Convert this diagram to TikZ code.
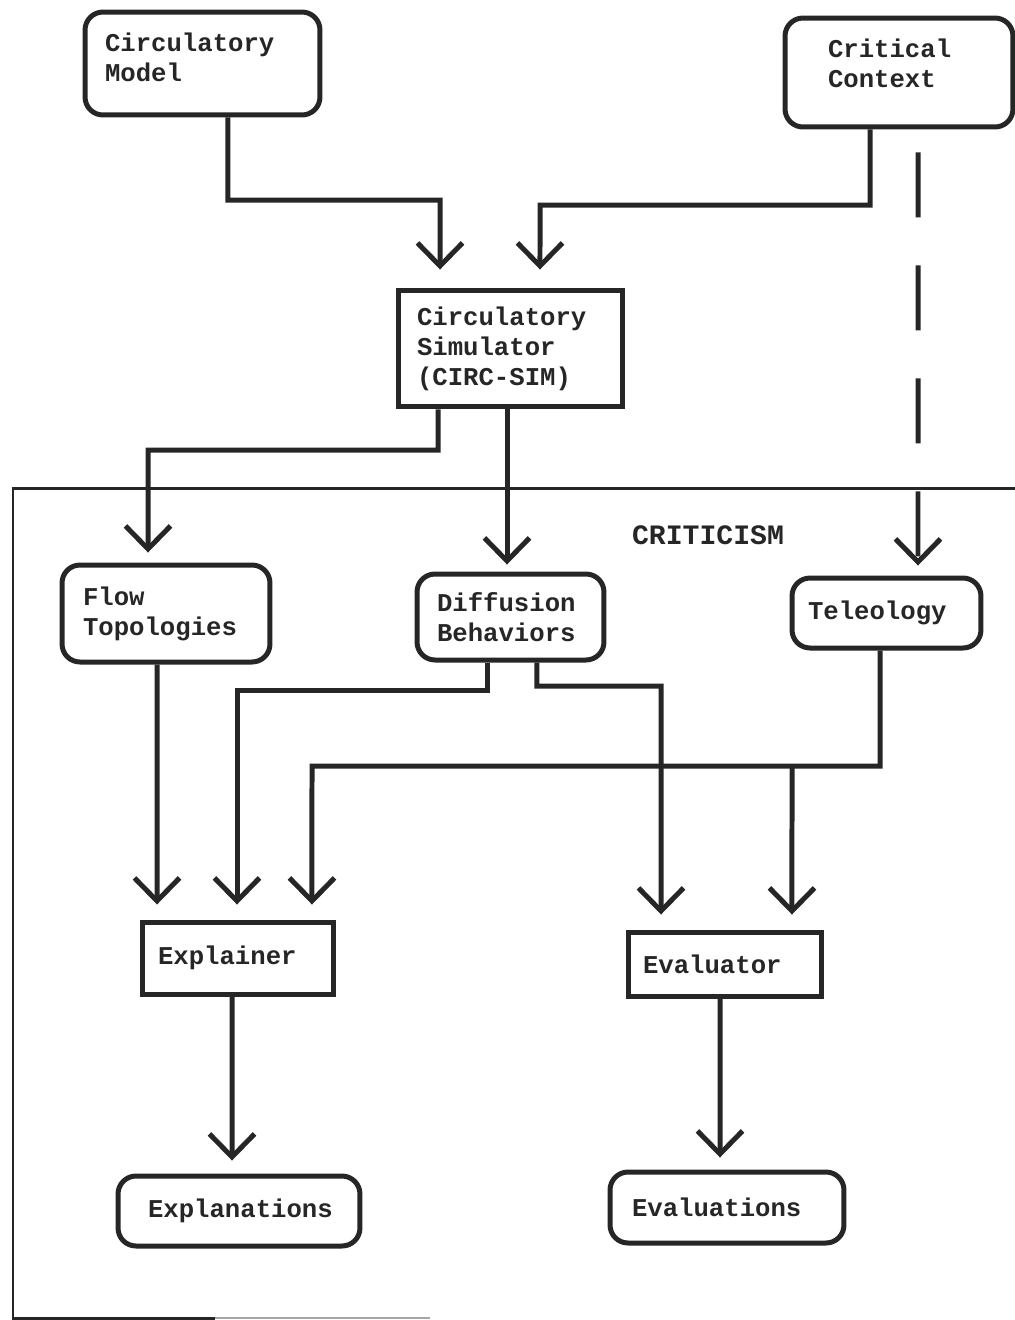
\documentclass[tikz,border=0pt]{standalone}
\usepackage{fontspec}
\newfontfamily\boxfont[HyphenChar=None]{Liberation Mono}
\usetikzlibrary{arrows.meta}

\begin{document}
\begin{tikzpicture}[x=0.02cm, y=-0.02cm, color=black!85,
        box/.style={draw, line width=0.1cm, align=left, font=\boxfont\bfseries\fontsize{14.6}{17}\selectfont},
        rbox/.style={box, rounded corners=0.36cm},
        arr/.style={line width=0.1cm, -{Straight Barb[length=0.46cm, width=0.9cm]}, shorten >=0.3cm}]
        \useasboundingbox (0,0) rectangle (1015,1320);

        \node[rbox, minimum height=2.06cm, text width=3.9cm, inner xsep=0.4cm, text depth=0.84cm] (model) at (202.5, 63.5) {Circulatory\\Model};
        \node[rbox, minimum height=2.18cm, text width=2.84cm, inner xsep=0.86cm, text depth=0.96cm] (context) at (899, 72.5) {Critical\\Context};
        \node[box, minimum height=2.34cm, text width=3.74cm, inner xsep=0.38cm] (sim) at (510.5, 348.5) {Circulatory\\Simulator\\(CIRC-SIM)};

        % criticism frame
        \draw[line width=0.06cm] (1015,488) -- (13,488) -- (13,1318) -- (215,1318);
        \draw[line width=0.04cm, black!35] (215,1318) -- (430,1318);
        \node[font=\boxfont\bfseries\fontsize{16}{18}\selectfont] (crit) at (708,535) {CRITICISM};

        \node[rbox, minimum height=1.94cm, text width=3.32cm, inner xsep=0.42cm] (flow) at (166, 613.5) {Flow\\Topologies};
        \node[rbox, minimum height=1.72cm, text width=2.94cm, inner xsep=0.4cm] (diff) at (510.5, 617) {Diffusion\\Behaviors};
        \node[rbox, minimum height=1.4cm, text width=3.14cm, inner xsep=0.32cm] (tele) at (886.5, 613) {Teleology};
        \node[box, minimum height=1.44cm, text width=3.2cm, inner xsep=0.32cm] (explainer) at (238, 958) {Explainer};
        \node[box, minimum height=1.28cm, text width=3.28cm, inner xsep=0.3cm] (evaluator) at (725, 964) {Evaluator};
        \node[rbox, minimum height=1.4cm, text width=3.64cm, inner xsep=0.6cm] (explanations) at (239, 1211) {Explanations};
        \node[rbox, minimum height=1.42cm, text width=3.8cm, inner xsep=0.44cm] (evaluations) at (727, 1207.5) {Evaluations};

        \draw[arr, shorten >=0.36cm] ([xshift=0.51cm]model.south) |- (440,200) -- ([xshift=-1.41cm]sim.north);
        \draw[arr, shorten >=0.36cm] ([xshift=-0.58cm]context.south) |- (540,205) -- ([xshift=0.59cm]sim.north);
        \draw[arr, shorten >=0.2cm, dash pattern=on 1.3cm off 0.96cm] ([xshift=0.38cm, yshift=-0.46cm]context.south) -- ([xshift=0.63cm]tele.north);

        \draw[arr, shorten >=0.2cm] ([xshift=-1.45cm]sim.south) |- (148,450) -- ([xshift=-0.36cm]flow.north);
        \draw[arr, shorten >=0.14cm] ([xshift=-0.07cm]sim.south) -- ([xshift=-0.07cm]diff.north);

        \draw[arr] ([xshift=-0.18cm]flow.south) -- ([xshift=-1.62cm]explainer.north);
        \draw[arr] ([xshift=-0.47cm]diff.south) |- (237,690) -- ([xshift=-0.02cm]explainer.north);
        \draw[arr] ([xshift=-0.13cm]tele.south) |- (312,766) -- ([xshift=1.48cm]explainer.north);
        \draw[arr] ([xshift=0.53cm]diff.south) |- (661,686) -- ([xshift=-1.28cm]evaluator.north);
        \coordinate (jn) at (792,766);
        \draw[arr] (jn) -- ([xshift=1.34cm]evaluator.north);

        \draw[arr, shorten >=0.26cm] ([xshift=-0.12cm]explainer.south) -- ([xshift=-0.14cm]explanations.north);
        \draw[arr, shorten >=0.24cm] ([xshift=-0.1cm]evaluator.south) -- ([xshift=-0.14cm]evaluations.north);
    \end{tikzpicture}
\end{document}
